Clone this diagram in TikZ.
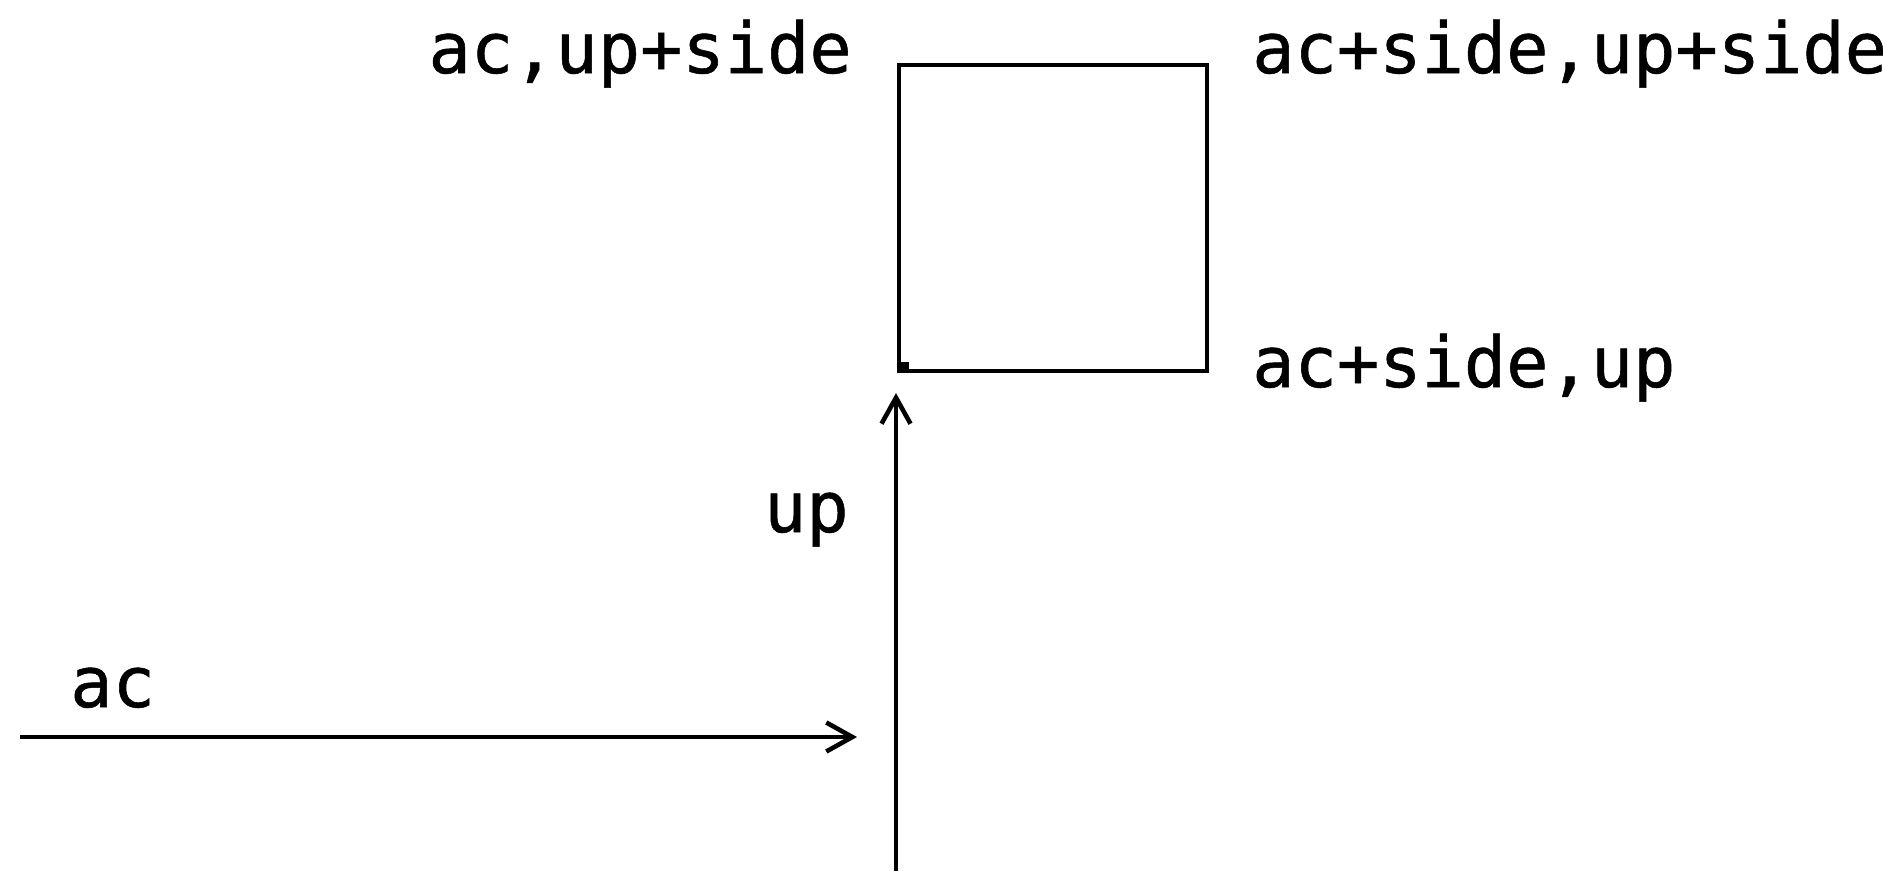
\documentclass[tikz,border=0pt]{standalone}
\usepackage{fontspec}
\newfontfamily\labelfont[FakeBold=0.8]{DejaVu Sans Mono}
\usetikzlibrary{positioning, arrows.meta}

\begin{document}
\begin{tikzpicture}[
        line width=1.3pt,
        lbl/.style={font=\labelfont\fontsize{20}{24}\selectfont, inner sep=0pt},
        vec/.style={-{Straight Barb[length=2.6mm, width=2.9mm]}},
        cell/.style={rectangle, draw, minimum width=3.08cm, minimum height=3.06cm, inner sep=0pt, outer sep=0pt, anchor=south west}
    ]
        \useasboundingbox (0,0) rectangle (18.83,8.71);

        % the square and its corner mark
        \node[cell] (box) at (8.99,5.00) {};
        \fill (box.south west) rectangle ++(0.10,0.09);

        % vectors
        \coordinate (upstart) at (8.96,0);
        \coordinate (upend) at (8.96,4.78);
        \coordinate (acstart) at (0.20,1.34);
        \coordinate (acend) at (8.57,1.34);
        \draw[vec] (upstart) -- (upend);
        \draw[vec] (acstart) -- (acend);

        % labels
        \node[lbl, anchor=base east] (tl) at (8.54,7.98) {ac,up+side};
        \node[lbl, anchor=base west] (tr) at (12.50,7.98) {ac+side,up+side};
        \node[lbl, anchor=base west] (br) at (12.50,4.84) {ac+side,up};
        \node[lbl, anchor=base east] (uplbl) at (8.51,3.39) {up};
        \node[lbl, anchor=base west] (aclbl) at (0.68,1.64) {ac};
    \end{tikzpicture}
\end{document}
